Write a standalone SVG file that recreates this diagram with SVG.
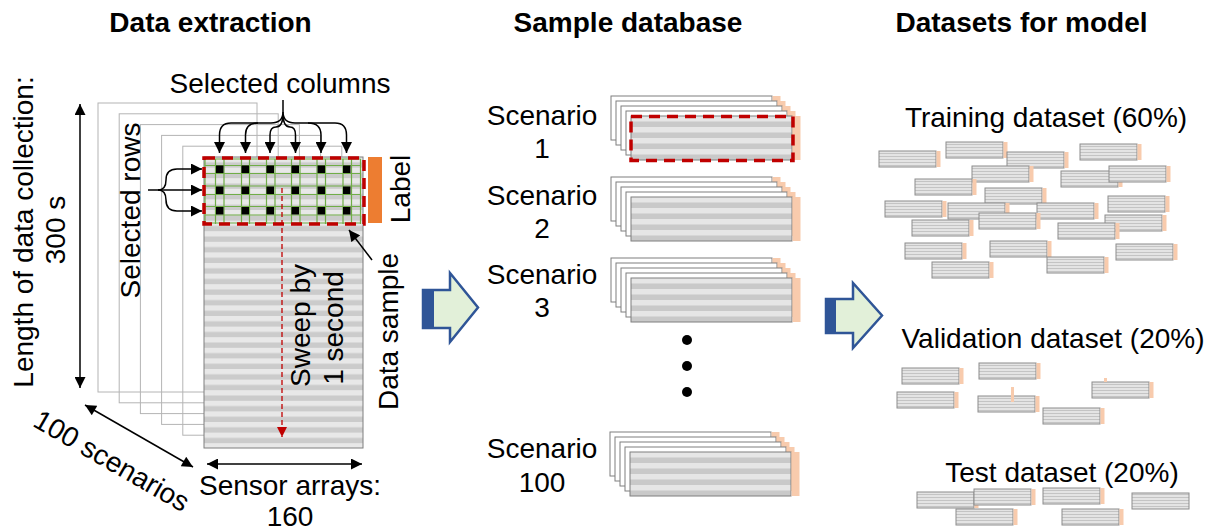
<svg xmlns="http://www.w3.org/2000/svg" width="1217" height="532" viewBox="0 0 1217 532">
<style>
.t{font-family:"Liberation Sans",Arial,sans-serif;font-size:28px;fill:#000}
.b{font-weight:bold}
.sheet{fill:none;stroke:#b4b4b4;stroke-width:1}
.ws{fill:#fff;stroke:#7f7f7f;stroke-width:1}
.ln{fill:none;stroke:#000;stroke-width:1.5}
.or{fill:#f8cbad}
.mini{fill:url(#stripeS);stroke:#8c8c8c;stroke-width:1}
.gr{stroke:#70ad47;stroke-width:1.2;fill:none}
.rd{fill:none;stroke:#c00000;stroke-width:3.5;stroke-dasharray:11 7}
.big{fill:#e2f0d9;stroke:#2f5597;stroke-width:2.5;stroke-linejoin:miter}
.dk{fill:#2f5597}
</style>
<defs>
<pattern id="stripeL" patternUnits="userSpaceOnUse" x="0" y="157" width="10" height="10.6">
<rect width="10" height="10.6" fill="#e8e8e8"/>
<rect y="5.3" width="10" height="5.3" fill="#cbcbcb"/>
</pattern>
<pattern id="stripeM" patternUnits="userSpaceOnUse" x="0" y="20" width="10" height="11">
<rect width="10" height="11" fill="#e6e6e6"/>
<rect y="5.5" width="10" height="5.5" fill="#c9c9c9"/>
</pattern>
<pattern id="stripeS" patternUnits="userSpaceOnUse" x="0" y="0" width="10" height="3">
<rect width="10" height="3" fill="#e4e4e4"/>
<rect y="2" width="10" height="1" fill="#c4c4c4"/>
</pattern>
<marker id="ah" viewBox="0 0 10 10" refX="10" refY="5" markerWidth="13" markerHeight="11" markerUnits="userSpaceOnUse" orient="auto-start-reverse">
<path d="M0,0 L10,5 L0,10 z" fill="#000"/>
</marker>
<marker id="ahr" viewBox="0 0 10 10" refX="10" refY="5" markerWidth="12" markerHeight="10" markerUnits="userSpaceOnUse" orient="auto">
<path d="M0,0 L10,5 L0,10 z" fill="#c00000"/>
</marker>
<symbol id="stack" overflow="visible">
<rect class="ws" x="0" y="0" width="161" height="44"/><rect class="or" x="161.5" y="0" width="8" height="44"/>
<rect class="ws" x="5" y="5" width="161" height="44"/><rect class="or" x="166.5" y="5" width="8" height="44"/>
<rect class="ws" x="10" y="10" width="161" height="44"/><rect class="or" x="171.5" y="10" width="8" height="44"/>
<rect class="ws" x="15" y="15" width="161" height="44"/><rect class="or" x="176.5" y="15" width="8" height="44"/>
<rect x="20" y="20" width="161" height="44" fill="url(#stripeM)" stroke="#7f7f7f"/><rect class="or" x="181.5" y="20" width="8" height="44"/>
</symbol>
<g id="mb"><rect class="mini" x="0" y="0" width="57" height="16"/><rect class="or" x="57.5" y="0" width="4" height="16"/></g>
</defs>

<rect width="1217" height="532" fill="#fff"/>

<g id="titles">
<text class="t b" x="210.5" y="32" text-anchor="middle">Data extraction</text>
<text class="t b" x="628" y="32" text-anchor="middle">Sample database</text>
<text class="t b" x="1021.5" y="32" text-anchor="middle">Datasets for model</text>
</g>

<g id="data-extraction">
<rect class="sheet" x="98" y="103" width="159" height="289"/>
<rect class="sheet" x="119.2" y="113.8" width="159" height="289"/>
<rect class="sheet" x="140.4" y="124.6" width="159" height="289"/>
<rect class="sheet" x="161.6" y="135.4" width="159" height="289"/>
<rect class="sheet" x="182.8" y="146.2" width="159" height="289"/>
<rect x="204" y="157" width="159" height="291" fill="url(#stripeL)" stroke="#7f7f7f"/>
<g id="grid">
<path class="gr" d="M205,159V224M215.5,159V224M224,159V224M241.5,159V224M249.5,159V224M266.5,159V224M275,159V224M291.5,159V224M300,159V224M317,159V224M325.5,159V224M343,159V224M351.5,159V224M360.5,159V224"/>
<path class="gr" d="M205,159H360.5M205,165.5H360.5M205,173.5H360.5M205,186H360.5M205,194.5H360.5M205,206.5H360.5M205,215H360.5M205,223H360.5"/>
<g fill="#000">
<rect x="216" y="165.5" width="7.5" height="7.5"/><rect x="241.5" y="165.5" width="7.5" height="7.5"/><rect x="266.5" y="165.5" width="7.5" height="7.5"/><rect x="291.5" y="165.5" width="7.5" height="7.5"/><rect x="317.5" y="165.5" width="7.5" height="7.5"/><rect x="343" y="165.5" width="7.5" height="7.5"/>
<rect x="216" y="186.5" width="7.5" height="7.5"/><rect x="241.5" y="186.5" width="7.5" height="7.5"/><rect x="266.5" y="186.5" width="7.5" height="7.5"/><rect x="291.5" y="186.5" width="7.5" height="7.5"/><rect x="317.5" y="186.5" width="7.5" height="7.5"/><rect x="343" y="186.5" width="7.5" height="7.5"/>
<rect x="216" y="207" width="7.5" height="7.5"/><rect x="241.5" y="207" width="7.5" height="7.5"/><rect x="266.5" y="207" width="7.5" height="7.5"/><rect x="291.5" y="207" width="7.5" height="7.5"/><rect x="317.5" y="207" width="7.5" height="7.5"/><rect x="343" y="207" width="7.5" height="7.5"/>
</g>
</g>
<rect class="rd" x="204" y="158" width="160" height="66"/>
<rect x="368" y="157" width="14" height="66" fill="#ed7d31"/>
<text class="t" transform="translate(33,232) rotate(-90)" text-anchor="middle">Length of data collection:</text>
<text class="t" transform="translate(65,230) rotate(-90)" text-anchor="middle">300 s</text>
<text class="t" transform="translate(140,210.5) rotate(-90)" text-anchor="middle">Selected rows</text>
<text class="t" x="280" y="93" text-anchor="middle">Selected columns</text>
<text class="t" transform="translate(410,189) rotate(-90)" text-anchor="middle">Label</text>
<text class="t" transform="translate(398,331.5) rotate(-90)" text-anchor="middle">Data sample</text>
<text class="t" transform="translate(310,325.5) rotate(-90)" text-anchor="middle">Sweep by</text>
<text class="t" transform="translate(343,328) rotate(-90)" text-anchor="middle">1 second</text>
<text class="t" transform="translate(107,469) rotate(30)" text-anchor="middle">100 scenarios</text>
<text class="t" x="290" y="495" text-anchor="middle">Sensor arrays:</text>
<text class="t" x="290" y="526" text-anchor="middle">160</text>
</g>

<g id="connectors">
<line class="ln" x1="80" y1="104" x2="80" y2="388" marker-start="url(#ah)" marker-end="url(#ah)"/>
<line class="ln" x1="85" y1="405" x2="193" y2="467" marker-start="url(#ah)" marker-end="url(#ah)"/>
<line class="ln" x1="207" y1="464" x2="362" y2="464" marker-start="url(#ah)" marker-end="url(#ah)"/>
<path class="ln" d="M283,100V112"/>
<path class="ln" d="M283,112Q283,123 271,123H231Q219.5,123 219.5,135V153" marker-end="url(#ah)"/>
<path class="ln" d="M258,123Q245.5,123 245.5,135V153" marker-end="url(#ah)"/>
<path class="ln" d="M283,112Q283,123 295,123H335Q346.5,123 346.5,135V153" marker-end="url(#ah)"/>
<path class="ln" d="M308,123Q321,123 321,135V153" marker-end="url(#ah)"/>
<path class="ln" d="M283,114Q283,127 276,127Q270,127 270,135V153" marker-end="url(#ah)"/>
<path class="ln" d="M283,114Q283,127 290,127Q295.5,127 295.5,135V153" marker-end="url(#ah)"/>
<path class="ln" d="M148,190H202" marker-end="url(#ah)"/>
<path class="ln" d="M158,190Q166,190 166,180Q166,169 177,169H202" marker-end="url(#ah)"/>
<path class="ln" d="M158,190Q166,190 166,200Q166,211 177,211H202" marker-end="url(#ah)"/>
<line class="ln" x1="372" y1="260" x2="349" y2="230" marker-end="url(#ah)"/>
<line x1="282" y1="188" x2="282" y2="437" stroke="#c00000" stroke-width="1.3" stroke-dasharray="5 3" marker-end="url(#ahr)"/>
</g>

<g id="arrow-1">
<path class="big" d="M423,290H450V273L478,307.5L450,342V328H423Z"/>
<rect class="dk" x="423" y="290" width="11" height="38"/>
</g>
<g id="arrow-2">
<path class="big" d="M826,299H853V283L882,315.5L853,348V333H826Z"/>
<rect class="dk" x="826" y="299" width="10" height="34"/>
</g>

<g id="sample-database">
<g id="scenario-1">
<text class="t" x="542" y="125" text-anchor="middle">Scenario</text>
<text class="t" x="542" y="158" text-anchor="middle">1</text>
<use href="#stack" x="611" y="96"/>
<rect class="rd" x="631" y="116.5" width="162" height="44"/>
</g>
<g id="scenario-2">
<text class="t" x="542" y="205" text-anchor="middle">Scenario</text>
<text class="t" x="542" y="238" text-anchor="middle">2</text>
<use href="#stack" x="611" y="177"/>
</g>
<g id="scenario-3">
<text class="t" x="542" y="284" text-anchor="middle">Scenario</text>
<text class="t" x="542" y="317" text-anchor="middle">3</text>
<use href="#stack" x="611" y="258"/>
</g>
<g id="dots" fill="#000">
<circle cx="687" cy="340" r="5"/><circle cx="687" cy="366" r="5"/><circle cx="687" cy="392" r="5"/>
</g>
<g id="scenario-100">
<text class="t" x="542" y="458" text-anchor="middle">Scenario</text>
<text class="t" x="542" y="492" text-anchor="middle">100</text>
<use href="#stack" x="610" y="432"/>
</g>
</g>

<g id="training">
<text class="t" x="1046" y="127" text-anchor="middle">Training dataset (60%)</text>
<use href="#mb" x="879" y="151"/><use href="#mb" x="946" y="142"/><use href="#mb" x="1007" y="152"/><use href="#mb" x="1080" y="144"/>
<use href="#mb" x="972" y="166"/><use href="#mb" x="1061" y="171"/><use href="#mb" x="1109" y="166"/><use href="#mb" x="915" y="179"/>
<use href="#mb" x="985" y="188"/><use href="#mb" x="885" y="201"/><use href="#mb" x="948" y="203"/><use href="#mb" x="1037" y="203"/>
<use href="#mb" x="1108" y="196"/><use href="#mb" x="979" y="213"/><use href="#mb" x="912" y="220"/><use href="#mb" x="1105" y="215"/>
<use href="#mb" x="1058" y="223"/><use href="#mb" x="905" y="243"/><use href="#mb" x="990" y="241"/><use href="#mb" x="1116" y="244"/>
<use href="#mb" x="1047" y="257"/><use href="#mb" x="932" y="262"/>
</g>

<g id="validation">
<text class="t" x="1053" y="348" text-anchor="middle">Validation dataset (20%)</text>
<use href="#mb" x="902" y="368"/><use href="#mb" x="979" y="363"/><use href="#mb" x="897" y="392"/><use href="#mb" x="978" y="396"/>
<use href="#mb" x="1092" y="382"/><use href="#mb" x="1043" y="408"/>
<rect class="or" x="1011" y="387" width="3" height="15"/>
<rect class="or" x="1104" y="378" width="3" height="4"/>
</g>

<g id="test">
<text class="t" x="1062" y="482" text-anchor="middle">Test dataset (20%)</text>
<use href="#mb" x="917" y="492"/><use href="#mb" x="974" y="489"/><use href="#mb" x="1043" y="488"/>
<rect class="mini" x="1132" y="493" width="57" height="16"/>
<use href="#mb" x="956" y="509"/><use href="#mb" x="1062" y="509"/>
</g>
</svg>
